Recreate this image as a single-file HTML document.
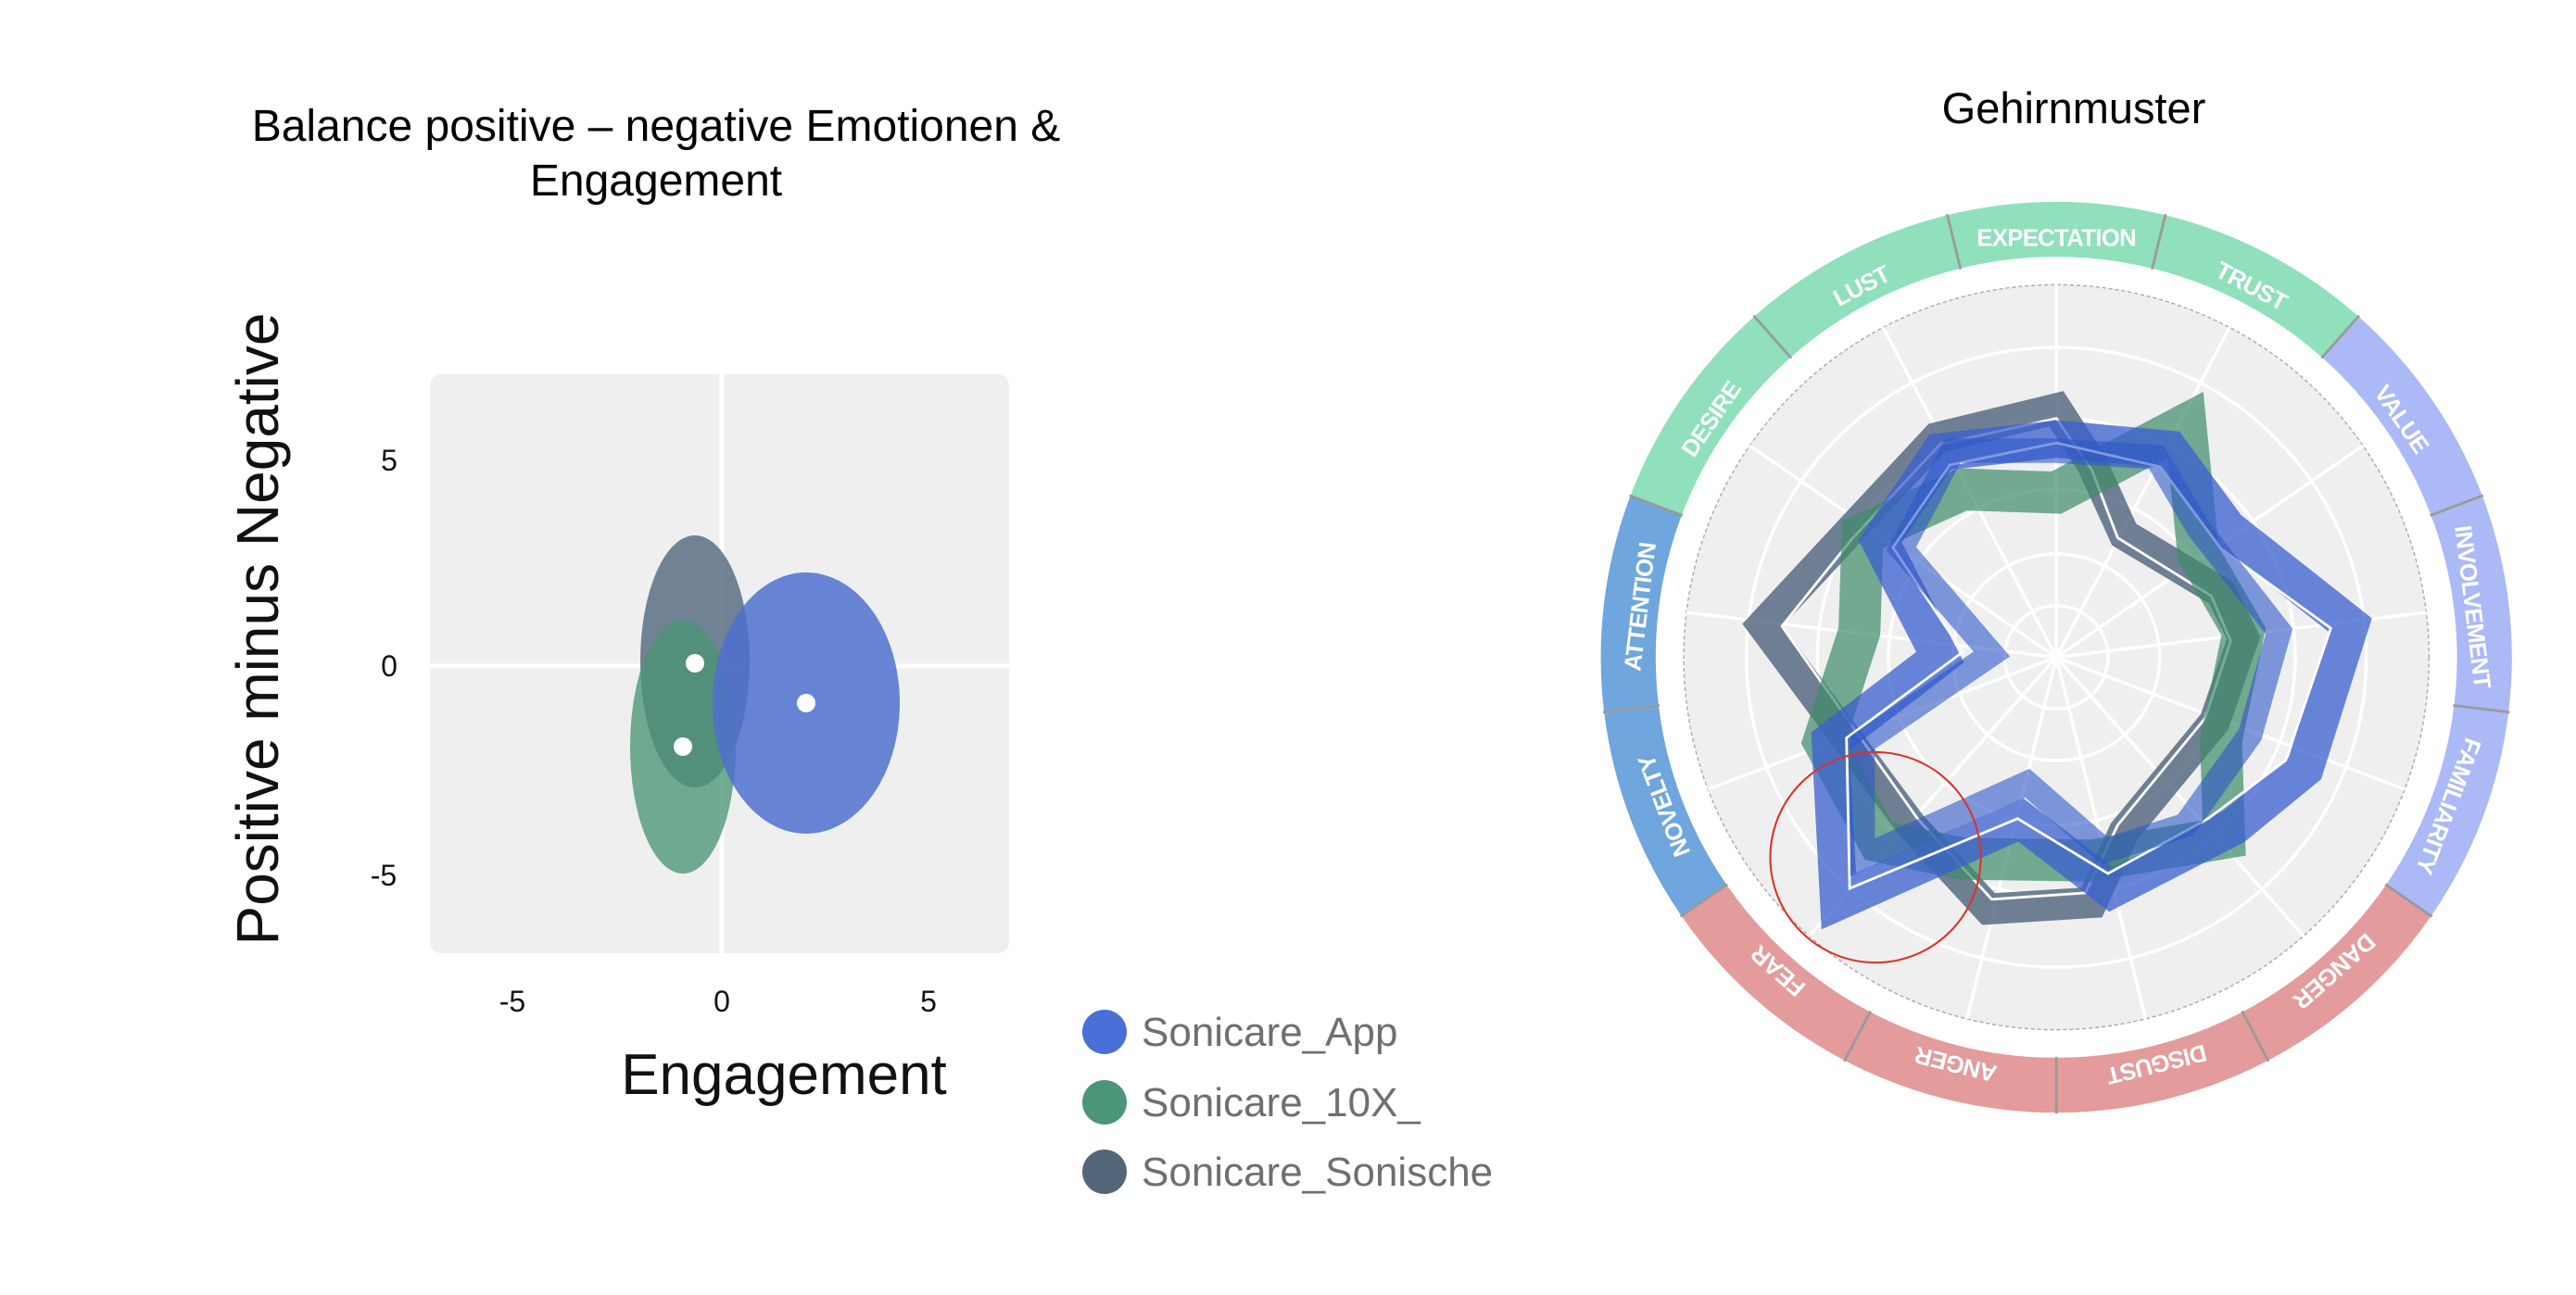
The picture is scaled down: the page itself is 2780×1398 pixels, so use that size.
<!DOCTYPE html>
<html><head><meta charset="utf-8"><style>
html,body{margin:0;padding:0;background:#fff;}
body{width:2780px;height:1398px;overflow:hidden;position:relative;font-family:"Liberation Sans",sans-serif;}
</style></head><body>
<svg width="2780" height="1398" viewBox="0 0 2780 1398" xmlns="http://www.w3.org/2000/svg" style="position:absolute;left:0;top:0">
<!-- Left chart -->
<text x="708" y="152" font-size="48" text-anchor="middle" fill="#000" font-family="Liberation Sans, sans-serif">Balance positive – negative Emotionen &amp;</text>
<text x="708" y="211" font-size="48" text-anchor="middle" fill="#000" font-family="Liberation Sans, sans-serif">Engagement</text>
<rect x="464" y="404" width="625" height="625" rx="12" fill="#efefef"/>
<line x1="779" y1="404" x2="779" y2="1029" stroke="#fff" stroke-width="5"/>
<line x1="464" y1="719" x2="1089" y2="719" stroke="#fff" stroke-width="5"/>
<ellipse cx="750" cy="714" rx="59" ry="136" fill="#5b6f84" opacity="0.85"/>
<ellipse cx="737" cy="806" rx="57" ry="137" fill="#4a9574" opacity="0.78"/>
<ellipse cx="870" cy="759" rx="101" ry="141" fill="#4e70cf" opacity="0.85"/>
<circle cx="750" cy="716" r="10" fill="#fff"/>
<circle cx="737" cy="806" r="10" fill="#fff"/>
<circle cx="870" cy="759" r="10" fill="#fff"/>
<g font-size="32" fill="#111" text-anchor="middle" font-family="Liberation Sans, sans-serif">
<text x="553" y="1092">-5</text><text x="779" y="1092">0</text><text x="1002" y="1092">5</text>
<text x="420" y="508">5</text><text x="420" y="730">0</text><text x="414" y="956">-5</text>
</g>
<text transform="translate(300,679) rotate(-90)" font-size="64" text-anchor="middle" fill="#111" font-family="Liberation Sans, sans-serif">Positive minus Negative</text>
<text x="846" y="1181" font-size="62" text-anchor="middle" fill="#111" font-family="Liberation Sans, sans-serif">Engagement</text>
<circle cx="1192" cy="1114" r="24" fill="#4a6fd6"/>
<circle cx="1192" cy="1190" r="24" fill="#4b9578"/>
<circle cx="1192" cy="1265" r="24" fill="#536579"/>
<g font-size="44" fill="#6f6f6f" font-family="Liberation Sans, sans-serif">
<text x="1232" y="1129">Sonicare_App</text>
<text x="1232" y="1205">Sonicare_10X_</text>
<text x="1232" y="1280">Sonicare_Sonische</text>
</g>
<rect x="1626" y="1230" width="60" height="70" fill="#fff"/>

<!-- Right chart -->
<text x="2238" y="133" font-size="47" text-anchor="middle" fill="#000" font-family="Liberation Sans, sans-serif">Gehirnmuster</text>
<g transform="translate(1700,152) scale(0.6969)">
  <circle cx="745" cy="800" r="577" fill="#efefef" stroke="#aaa" stroke-width="2" stroke-dasharray="6 4"/>
  <g stroke="#fff" stroke-width="5" fill="none">
    <circle cx="745" cy="800" r="80"/><circle cx="745" cy="800" r="160"/>
    <circle cx="745" cy="800" r="260"/><circle cx="745" cy="800" r="370"/>
    <circle cx="745" cy="800" r="480"/>
  </g>
  <g stroke="#fff" stroke-width="5">
    <line x1="745" y1="800" x2="745" y2="223"/>
    <line x1="745" y1="800" x2="745" y2="223" transform="rotate(27.69 745 800)"/>
    <line x1="745" y1="800" x2="745" y2="223" transform="rotate(55.38 745 800)"/>
    <line x1="745" y1="800" x2="745" y2="223" transform="rotate(83.08 745 800)"/>
    <line x1="745" y1="800" x2="745" y2="223" transform="rotate(110.77 745 800)"/>
    <line x1="745" y1="800" x2="745" y2="223" transform="rotate(138.46 745 800)"/>
    <line x1="745" y1="800" x2="745" y2="223" transform="rotate(166.15 745 800)"/>
    <line x1="745" y1="800" x2="745" y2="223" transform="rotate(193.85 745 800)"/>
    <line x1="745" y1="800" x2="745" y2="223" transform="rotate(221.54 745 800)"/>
    <line x1="745" y1="800" x2="745" y2="223" transform="rotate(249.23 745 800)"/>
    <line x1="745" y1="800" x2="745" y2="223" transform="rotate(276.92 745 800)"/>
    <line x1="745" y1="800" x2="745" y2="223" transform="rotate(304.62 745 800)"/>
    <line x1="745" y1="800" x2="745" y2="223" transform="rotate(332.31 745 800)"/>
  </g>
  <g fill="none" stroke-width="85">
    <g transform="rotate(0 745 800)"><path d="M 586.5 156.3 A 663 663 0 0 1 903.5 156.3" stroke="#8fe0bb"/></g>
    <g transform="rotate(27.69 745 800)"><path d="M 586.5 156.3 A 663 663 0 0 1 903.5 156.3" stroke="#8fe0bb"/></g>
    <g transform="rotate(55.38 745 800)"><path d="M 586.5 156.3 A 663 663 0 0 1 903.5 156.3" stroke="#abb9f6"/></g>
    <g transform="rotate(83.08 745 800)"><path d="M 586.5 156.3 A 663 663 0 0 1 903.5 156.3" stroke="#abb9f6"/></g>
    <g transform="rotate(110.77 745 800)"><path d="M 586.5 156.3 A 663 663 0 0 1 903.5 156.3" stroke="#abb9f6"/></g>
    <g transform="rotate(138.46 745 800)"><path d="M 586.5 156.3 A 663 663 0 0 1 903.5 156.3" stroke="#e39b9b"/></g>
    <g transform="rotate(166.15 745 800)"><path d="M 586.5 156.3 A 663 663 0 0 1 903.5 156.3" stroke="#e39b9b"/></g>
    <g transform="rotate(193.85 745 800)"><path d="M 586.5 156.3 A 663 663 0 0 1 903.5 156.3" stroke="#e39b9b"/></g>
    <g transform="rotate(221.54 745 800)"><path d="M 586.5 156.3 A 663 663 0 0 1 903.5 156.3" stroke="#e39b9b"/></g>
    <g transform="rotate(249.23 745 800)"><path d="M 586.5 156.3 A 663 663 0 0 1 903.5 156.3" stroke="#6fa6dd"/></g>
    <g transform="rotate(276.92 745 800)"><path d="M 586.5 156.3 A 663 663 0 0 1 903.5 156.3" stroke="#6fa6dd"/></g>
    <g transform="rotate(304.62 745 800)"><path d="M 586.5 156.3 A 663 663 0 0 1 903.5 156.3" stroke="#8fe0bb"/></g>
    <g transform="rotate(332.31 745 800)"><path d="M 586.5 156.3 A 663 663 0 0 1 903.5 156.3" stroke="#8fe0bb"/></g>
  </g>
  <g stroke="#9a9a9a" stroke-width="4">
    <line x1="745" y1="93" x2="745" y2="181" transform="rotate(13.85 745 800)"/>
    <line x1="745" y1="93" x2="745" y2="181" transform="rotate(41.54 745 800)"/>
    <line x1="745" y1="93" x2="745" y2="181" transform="rotate(69.23 745 800)"/>
    <line x1="745" y1="93" x2="745" y2="181" transform="rotate(96.92 745 800)"/>
    <line x1="745" y1="93" x2="745" y2="181" transform="rotate(124.62 745 800)"/>
    <line x1="745" y1="93" x2="745" y2="181" transform="rotate(152.31 745 800)"/>
    <line x1="745" y1="93" x2="745" y2="181" transform="rotate(180 745 800)"/>
    <line x1="745" y1="93" x2="745" y2="181" transform="rotate(207.69 745 800)"/>
    <line x1="745" y1="93" x2="745" y2="181" transform="rotate(235.38 745 800)"/>
    <line x1="745" y1="93" x2="745" y2="181" transform="rotate(263.08 745 800)"/>
    <line x1="745" y1="93" x2="745" y2="181" transform="rotate(290.77 745 800)"/>
    <line x1="745" y1="93" x2="745" y2="181" transform="rotate(318.46 745 800)"/>
    <line x1="745" y1="93" x2="745" y2="181" transform="rotate(346.15 745 800)"/>
  </g>
  <g font-size="37" font-weight="bold" fill="#fff" text-anchor="middle" font-family="Liberation Sans, sans-serif" letter-spacing="-1">
    <text x="745" y="163" transform="rotate(0 745 800)">EXPECTATION</text>
    <text x="745" y="163" transform="rotate(27.69 745 800)">TRUST</text>
    <text x="745" y="163" transform="rotate(55.38 745 800)">VALUE</text>
    <text x="745" y="163" transform="rotate(83.08 745 800)">INVOLVEMENT</text>
    <text x="745" y="163" transform="rotate(110.77 745 800)">FAMILIARITY</text>
    <text x="745" y="163" transform="rotate(138.46 745 800)">DANGER</text>
    <text x="745" y="163" transform="rotate(166.15 745 800)">DISGUST</text>
    <text x="745" y="163" transform="rotate(193.85 745 800)">ANGER</text>
    <text x="745" y="163" transform="rotate(221.54 745 800)">FEAR</text>
    <text x="745" y="163" transform="rotate(249.23 745 800)">NOVELTY</text>
    <text x="745" y="163" transform="rotate(276.92 745 800)">ATTENTION</text>
    <text x="745" y="163" transform="rotate(304.62 745 800)">DESIRE</text>
    <text x="745" y="163" transform="rotate(332.31 745 800)">LUST</text>
  </g>
  <!-- series -->
  <polygon points="745,415 800,500 850,610 1000,700 1035,770 990,900 850,1070 800,1180 640,1190 520,1060 290,750 420,610 560,460" fill="none" stroke="#4a5f78" stroke-opacity="0.78" stroke-width="48" stroke-linejoin="miter"/>
  <polygon points="745,430 800,510 840,615 985,705 1015,775 975,895 840,1060 790,1165 645,1175 530,1050 320,752 430,615 565,470" fill="none" stroke="#fff" stroke-width="4"/>
  <polygon points="745,545 945,440 965,640 1035,760 1000,930 1005,1080 800,1115 600,1112 470,1085 385,930 440,760 445,610 600,540" fill="none" stroke="#3d8c68" stroke-opacity="0.7" stroke-width="65" stroke-linejoin="miter"/>
  <polygon points="745,462 920,478 1010,600 1200,750 1130,972 1020,1062 830,1160 690,1052 408,1178 395,930 565,800 472,620 565,482" fill="none" stroke="#3a5fd0" stroke-opacity="0.75" stroke-width="58" stroke-linejoin="miter"/>
  <polygon points="745,468 906,505 1000,632 1170,755 1100,960 980,1050 825,1135 685,1050 425,1158 420,925 600,792 492,630 580,502" fill="none" stroke="#fff" stroke-width="4"/>
  <polygon points="745,480 900,490 965,600 1090,760 1045,920 945,1060 820,1100 700,995 445,1110 445,932 645,795 505,632 585,480" fill="none" stroke="#2f56c8" stroke-opacity="0.6" stroke-width="38" stroke-linejoin="miter"/>
  <circle cx="465" cy="1110" r="163" fill="none" stroke="#d9342c" stroke-width="3"/>
</g>
</svg>
</body></html>
